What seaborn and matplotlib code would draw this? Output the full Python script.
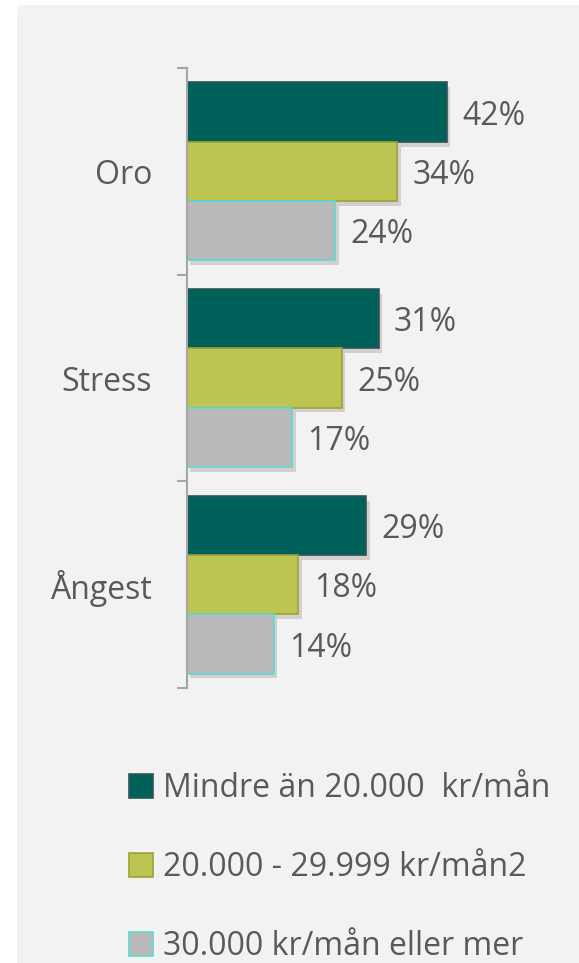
import matplotlib
matplotlib.use('Agg')
import matplotlib.pyplot as plt
import seaborn as sns
import pandas as pd
from matplotlib.patches import FancyBboxPatch, Patch
import matplotlib.patheffects as pe

categories = ['Oro', 'Stress', 'Ångest']
series = ['Mindre än 20.000  kr/mån', '20.000 - 29.999 kr/mån2', '30.000 kr/mån eller mer']
low = [42, 31, 29]
mid = [34, 25, 18]
high = [24, 17, 14]

colors = ['#00605a', '#bcc452', '#b9b9b9']
edges = ['#2f5552', '#9ea236', '#5fd8d2']
text_color = '#595959'
axis_color = '#a6a6a6'

rows = []
for s, vals in zip(series, [low, mid, high]):
    for c, v in zip(categories, vals):
        rows.append({'Kategori': c, 'Grupp': s, 'Andel': v})
df = pd.DataFrame(rows)

sns.set_theme(style='white')
plt.rcParams['font.family'] = ['Open Sans', 'DejaVu Sans']
FS = 23

W, H = 579, 963
fig = plt.figure(figsize=(W / 100, H / 100), dpi=100, facecolor='white')
bg = FancyBboxPatch((17 / W, -0.05), 1 - 17 / W + 0.05, 1 - 5 / H + 0.05,
                    boxstyle='round,pad=0,rounding_size=0.008',
                    transform=fig.transFigure, facecolor='#f2f2f2',
                    edgecolor='none', zorder=-10)
fig.patches.append(bg)

ax = fig.add_axes([187 / W, 1 - 688 / H, (560 - 187) / W, 620 / H])
ax.set_facecolor('none')

sns.barplot(data=df, y='Kategori', x='Andel', hue='Grupp', orient='h',
            order=categories, hue_order=series, palette=colors,
            width=0.86, gap=0, dodge=True, legend=False, ax=ax,
            saturation=1)

shadow = [pe.SimplePatchShadow(offset=(2.5, -3.5), shadow_rgbFace='#8a7f7b', alpha=0.3), pe.Normal()]
for cont, ec in zip(ax.containers, edges):
    for bar in cont:
        bar.set_edgecolor(ec)
        bar.set_linewidth(1.2)
        bar.set_path_effects(shadow)
    vals = [int(round(b.get_width())) for b in cont]
    anns = ax.bar_label(cont, labels=[f'{v}%' for v in vals], padding=11,
                        fontsize=FS, color=text_color)
    for a in anns:
        a.xyann = (11, -3)

ax.set_xlim(0, 60.3)
ax.set_ylim(2.5, -0.5)
ax.set_xlabel('')
ax.set_ylabel('')
ax.xaxis.set_visible(False)
for side in ['top', 'right', 'bottom']:
    ax.spines[side].set_visible(False)
ax.spines['left'].set_color(axis_color)
ax.spines['left'].set_linewidth(1.5)
ax.set_yticks(range(len(categories)))
ax.set_yticklabels(categories)
ax.set_yticks([-0.5, 0.5, 1.5, 2.5], minor=True)
ax.tick_params(axis='y', which='major', length=0, pad=25, labelsize=FS,
               labelcolor=text_color)
ax.tick_params(axis='y', which='minor', length=7.5, width=1.5, color=axis_color,
               left=True)

handles = [Patch(facecolor=c, edgecolor=e, linewidth=1.2) for c, e in zip(colors, edges)]
leg = fig.legend(handles, series, loc='upper left',
                 bbox_to_anchor=(129 / W, 1 - 772 / H),
                 frameon=False, fontsize=FS, labelcolor=text_color,
                 handlelength=0.75, handleheight=0.75, handletextpad=0.31,
                 labelspacing=1.44, borderpad=0, borderaxespad=0)

fig.savefig('out.png', dpi=100, facecolor='white')
